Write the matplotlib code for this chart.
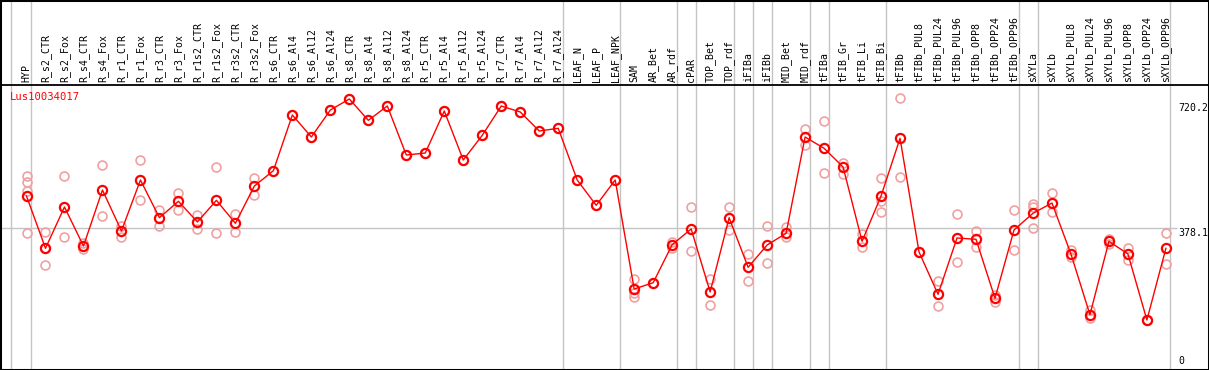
import matplotlib
matplotlib.use("Agg")
import matplotlib.pyplot as plt

gene = "Lus10034017"

categories = [
    "HYP", "R_s2_CTR", "R_s2_Fox", "R_s4_CTR", "R_s4_Fox", "R_r1_CTR", "R_r1_Fox",
    "R_r3_CTR", "R_r3_Fox", "R_r1s2_CTR", "R_r1s2_Fox", "R_r3s2_CTR", "R_r3s2_Fox",
    "R_s6_CTR", "R_s6_Al4", "R_s6_Al12", "R_s6_Al24", "R_s8_CTR", "R_s8_Al4",
    "R_s8_Al12", "R_s8_Al24", "R_r5_CTR", "R_r5_Al4", "R_r5_Al12", "R_r5_Al24",
    "R_r7_CTR", "R_r7_Al4", "R_r7_Al12", "R_r7_Al24", "LEAF_N", "LEAF_P", "LEAF_NPK",
    "SAM", "AR_Bet", "AR_rdf", "cPAR", "TOP_Bet", "TOP_rdf", "iFIBa", "iFIBb",
    "MID_Bet", "MID_rdf", "tFIBa", "tFIB_Gr", "tFIB_Li", "tFIB_Bi", "tFIBb",
    "tFIBb_PUL8", "tFIBb_PUL24", "tFIBb_PUL96", "tFIBb_OPP8", "tFIBb_OPP24",
    "tFIBb_OPP96", "sXYLa", "sXYLb", "sXYLb_PUL8", "sXYLb_PUL24", "sXYLb_PUL96",
    "sXYLb_OPP8", "sXYLb_OPP24", "sXYLb_OPP96",
]

means = [
    465.8, 322.5, 435.7, 328.8, 482.2, 369.9, 509.6, 406.3, 451.3, 394.6, 454.0,
    391.0, 493.2, 535.1, 687.7, 627.5, 701.4, 731.6, 673.2, 712.4, 578.1, 583.6,
    698.7, 564.4, 632.1, 712.4, 696.0, 643.9, 651.3, 509.6, 440.3, 509.6,
    211.0, 228.2, 332.4, 375.4, 202.8, 406.3, 270.4, 331.5, 363.6, 627.5, 596.5,
    545.3, 341.7, 465.8, 623.9, 312.4, 196.5, 350.7, 347.2, 185.5, 372.6, 418.4,
    446.6, 306.9, 140.6, 341.7, 306.9, 126.0, 322.5,
]

replicates = [
    [520.6, 503.3, 479.5, 363.6], [368.0, 275.9, 322.5], [519.8, 352.6],
    [336.2, 319.8], [549.9, 410.2], [383.3, 354.3], [563.6, 454.0],
    [427.4, 383.6], [474.0, 427.4], [414.6, 374.6], [544.4, 363.6],
    [415.7, 368.0], [515.1, 467.7], [535.1], [687.7], [627.5], [701.4],
    [731.6], [673.2], [712.4], [578.1], [583.6], [698.7], [564.4], [632.1],
    [712.4], [696.0], [643.9], [651.3], [509.6], [440.3], [509.6],
    [238.4, 199.2, 189.9], [228.2], [338.9, 324.1], [435.7, 314.3],
    [238.4, 166.3], [435.7, 371.8], [306.9, 232.9], [383.6, 282.2],
    [380.8, 352.6], [649.4, 605.5], [671.3, 528.8], [557.0, 526.1],
    [362.5, 325.2], [515.1, 452.1, 422.0], [733.5, 517.9], [312.4, 312.4],
    [233.2, 163.6], [415.7, 285.0], [369.9, 325.2], [194.5, 176.2],
    [426.6, 317.8], [443.1, 436.5, 377.3], [473.2, 421.1], [317.8, 297.8],
    [153.4, 130.7], [348.8, 334.3], [323.3, 290.4], [126.0, 126.0],
    [363.6, 279.5],
]

ytick_values = [720.2, 378.1, 0]
ytick_labels = ["720.2", "378.1", "0"]

# indices after which a group separator line is drawn
group_ends = [0, 28, 31, 34, 35, 37, 38, 39, 41, 42, 45, 52, 53, 60]

W, H = 1209, 370
fig = plt.figure(figsize=(W / 100, H / 100), dpi=100)
ax = fig.add_axes([0, 0, 1, 1])

step = 18.99
x0px = 26.5
xlim = (-x0px / step, (W - x0px) / step)
vpp = 2.74  # value per pixel
ylim = (-(H - 366) * vpp, 366 * vpp)
ax.set_xlim(*xlim)
ax.set_ylim(*ylim)
ax.set_xticks([])
ax.set_yticks([])
for s in ax.spines.values():
    s.set_color("black")
    s.set_linewidth(2.2)

grey = "#c4c4c4"
# vertical separators
ax.axvline(-0.82, color=grey, lw=1, zorder=1)
for g in group_ends:
    ax.axvline(g + 0.24, color=grey, lw=1, zorder=1)

# horizontal reference line
ax.hlines(378.1, xlim[0], 60.6, color=grey, lw=1, zorder=1)

# label band separator
header_y = (366 - 85) * vpp
ax.axhline(header_y, color="black", lw=1.3, zorder=3)

mono = "DejaVu Sans Mono"
label_y = (366 - 82.5) * vpp
for i, c in enumerate(categories):
    ax.text(i, label_y, c, rotation=90, ha="center", va="bottom",
            fontsize=7.1, family=mono, color="black")

# replicate points
for i, reps in enumerate(replicates):
    ax.plot([i] * len(reps), reps, linestyle="none", marker="o", ms=6.4,
            mfc="none", mec="#f0a0a0", mew=1.2, zorder=2)

xs = list(range(len(categories)))
ax.plot(xs, means, color="#ff0000", lw=1.0, zorder=4)
ax.plot(xs, means, linestyle="none", marker="o", ms=6.6, mfc="none",
        mec="#ff0000", mew=1.6, zorder=5)

# gene id
ax.text(10 / step - x0px / step, (366 - 97) * vpp, gene, color="#ff0000",
        fontsize=7.6, family=mono, ha="left", va="center")

# y tick labels on the right
xlab = (1178 - x0px) / step
for v, t in zip(ytick_values, ytick_labels):
    va = "bottom" if v == 0 else "top"
    ax.text(xlab, v, t, ha="left", va=va, fontsize=7.1, family=mono,
            color="black")

fig.savefig("out.png", dpi=100)
